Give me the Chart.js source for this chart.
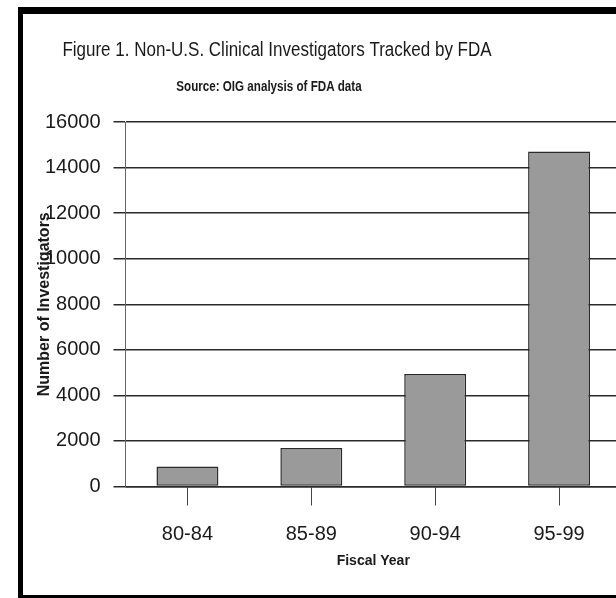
<!DOCTYPE html>
<html>
<head>
<meta charset="utf-8">
<script src="https://cdn.jsdelivr.net/npm/chart.js@4/dist/chart.umd.min.js"></script>
<style>
  html, body { margin: 0; padding: 0; background: #fff; overflow: hidden; }
  #wrap { position: relative; width: 616px; height: 598px; overflow: hidden; }
  #chart { position: absolute; left: 0; top: 0; }
  /* black frame round the figure, right edge runs off the page */
  #frame {
    position: absolute; left: 18px; top: 7px; width: 700px; height: 593px;
    box-sizing: border-box;
    border-left: 5px solid #000; border-top: 7px solid #000; border-bottom: 5px solid #000;
    pointer-events: none;
  }
</style>
</head>
<body>
<div id="wrap">
  <canvas id="chart" width="640" height="598"></canvas>
  <div id="frame"></div>
</div>
<script>
const categories = ['80-84', '85-89', '90-94', '95-99'];
const investigators = [880, 1690, 4940, 14700];
const yMax = 16000;
const yStep = 2000;

const titleText = 'Figure 1. Non-U.S. Clinical Investigators Tracked by FDA';
const subtitleText = 'Source: OIG analysis of FDA data';

const FONT = '"Liberation Sans", Arial, sans-serif';
const INK = '#1a1a1a';

// heading lines, drawn a little condensed
const headingPlugin = {
  id: 'heading',
  afterDraw(chart) {
    const ctx = chart.ctx;
    const lines = [
      { text: titleText, x: 277, y: 50, font: '20px ' + FONT, sx: 0.85 },
      { text: subtitleText, x: 269, y: 87, font: 'bold 14px ' + FONT, sx: 0.83 }
    ];
    ctx.save();
    ctx.fillStyle = INK;
    ctx.textAlign = 'center';
    ctx.textBaseline = 'middle';
    lines.forEach(l => {
      ctx.save();
      ctx.font = l.font;
      ctx.translate(l.x, l.y);
      ctx.scale(l.sx, 1);
      ctx.fillText(l.text, 0, 0);
      ctx.restore();
    });
    ctx.restore();
  }
};

const ctx = document.getElementById('chart').getContext('2d');
new Chart(ctx, {
  type: 'bar',
  data: {
    labels: categories,
    datasets: [{
      label: 'Investigators',
      data: investigators,
      backgroundColor: '#9a9a9a',
      borderColor: '#2a2a2a',
      borderWidth: 1.5,
      borderSkipped: false,
      categoryPercentage: 0.5,
      barPercentage: 1.0
    }]
  },
  options: {
    responsive: false,
    animation: false,
    devicePixelRatio: 1,
    layout: { padding: { top: 122, right: 19, bottom: 0, left: 0 } },
    plugins: {
      legend: { display: false },
      tooltip: { enabled: false },
      title: { display: false }
    },
    scales: {
      x: {
        afterFit(scale) { scale.height = 111.5; },
        border: { display: true, color: '#2a2a2a', width: 1.5 },
        grid: {
          offset: false,
          drawOnChartArea: false,
          drawTicks: true,
          tickLength: 19,
          color: '#444',
          lineWidth: 1
        },
        ticks: {
          color: INK,
          padding: 17,
          font: { family: FONT, size: 20 }
        },
        title: {
          display: true,
          text: 'Fiscal Year',
          color: INK,
          font: { family: FONT, size: 14, weight: 'bold' },
          padding: { top: 0, bottom: 28 }
        }
      },
      y: {
        min: 0,
        max: yMax,
        afterFit(scale) { scale.width = 125.5; },
        border: { display: true, color: '#666', width: 1 },
        grid: {
          color: '#2a2a2a',
          lineWidth: 1.5,
          drawTicks: true,
          tickLength: 12,
          tickColor: '#2a2a2a',
          tickWidth: 1.5
        },
        ticks: {
          stepSize: yStep,
          color: INK,
          padding: 13,
          font: { family: FONT, size: 20 },
          callback: v => String(v)
        },
        title: {
          display: true,
          text: 'Number of Investigators',
          color: INK,
          font: { family: FONT, size: 16, weight: 'bold' },
          padding: { top: 35, bottom: 0 }
        }
      }
    }
  },
  plugins: [headingPlugin]
});
</script>
</body>
</html>
